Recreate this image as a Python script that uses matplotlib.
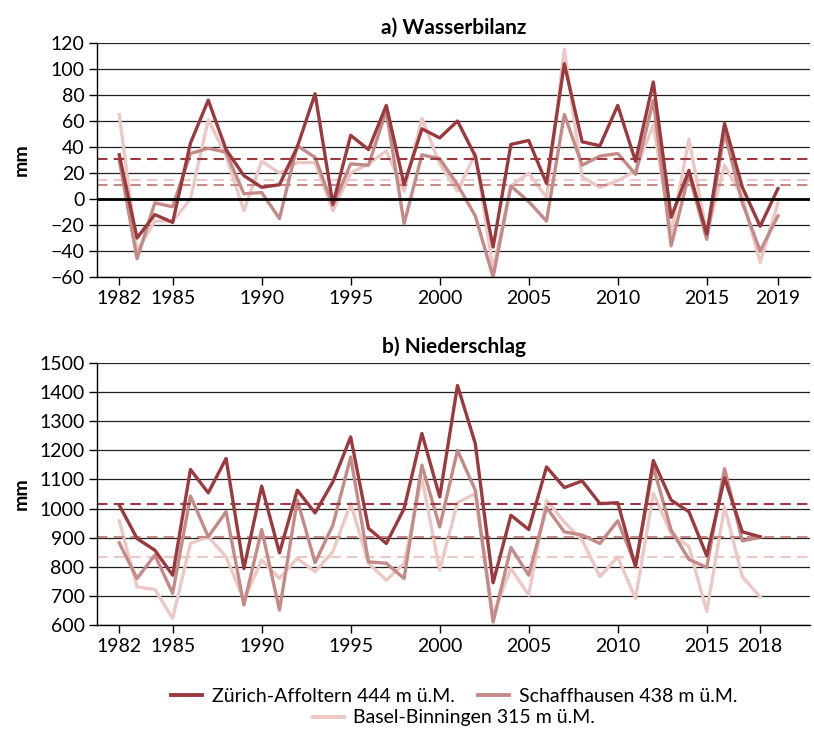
import matplotlib.pyplot as plt
from matplotlib.lines import Line2D

plt.rcParams['font.family'] = ['Lato', 'DejaVu Sans']

# years
years_a = list(range(1982, 2020))
years_b = list(range(1982, 2019))

# a) Wasserbilanz (mm)
wb_zuerich = [34, -30, -12, -18, 43, 76, 38, 18, 9, 11, 40, 81, -4, 49, 38, 72, 11,
              54, 47, 60, 33, -37, 42, 45, 12, 104, 44, 41, 72, 29, 90, -14, 22, -27,
              58, 9, -21, 8]
wb_schaffh = [30, -46, -3, -6, 35, 39, 36, 4, 5, -15, 41, 32, -5, 27, 26, 68, -19,
              34, 31, 11, -13, -60, 10, -2, -17, 65, 26, 33, 35, 19, 76, -36, 19, -31,
              51, -3, -40, -13]
wb_basel = [65, -40, -17, -17, 0, 61, 33, -9, 29, 20, 28, 28, -9, 20, 27, 37, 6,
            62, 27, 6, 35, -54, 10, 20, 1, 115, 17, 9, 14, 22, 57, -26, 46, -27,
            26, 2, -49, -3]
wb_means = [31, 11, 15]

# b) Niederschlag (mm)
ns_zuerich = [1012, 897, 857, 771, 1134, 1054, 1172, 794, 1077, 848, 1063, 985, 1092,
              1246, 932, 880, 1000, 1258, 1040, 1423, 1223, 745, 977, 928, 1143, 1072,
              1095, 1017, 1020, 800, 1165, 1029, 989, 838, 1105, 920, 903]
ns_schaffh = [882, 760, 840, 709, 1043, 903, 989, 669, 928, 651, 1029, 814, 943,
              1177, 817, 812, 760, 1149, 937, 1200, 1063, 610, 866, 771, 1004, 920,
              909, 880, 958, 806, 1143, 926, 825, 798, 1137, 889, 901]
ns_basel = [958, 731, 722, 623, 880, 903, 834, 686, 823, 760, 829, 783, 852,
            1017, 812, 754, 812, 1105, 789, 1020, 1052, 634, 794, 703, 1029, 954,
            892, 766, 834, 691, 1052, 914, 869, 646, 1006, 766, 697]
ns_means = [1015, 901, 834]

names = ['Zürich-Affoltern 444 m ü.M.', 'Schaffhausen 438 m ü.M.',
         'Basel-Binningen 315 m ü.M.']
colors = ['#9a3a3f', '#c48a87', '#ebc8c3']

ticks_a = [1982, 1985, 1990, 1995, 2000, 2005, 2010, 2015, 2019]
ticks_b = [1982, 1985, 1990, 1995, 2000, 2005, 2010, 2015, 2018]

fig = plt.figure(figsize=(8.14, 7.31), dpi=100)
W, H = 814, 731
ax1 = fig.add_axes([97 / W, 1 - 277 / H, (810 - 97) / W, (277 - 43) / H])
ax2 = fig.add_axes([97 / W, 1 - 625 / H, (810 - 97) / W, (625 - 363) / H])


def style(ax, yticks, xticks, title):
    ax.set_yticks(yticks)
    ax.set_xticks(xticks)
    ax.set_xlim(1980.75, 2020.8)
    ax.set_ylim(yticks[0], yticks[-1])
    ax.grid(axis='y', color='#222222', linewidth=0.9)
    ax.set_axisbelow(True)
    for s in ['top', 'right']:
        ax.spines[s].set_visible(False)
    ax.spines['left'].set_linewidth(1.0)
    ax.spines['bottom'].set_linewidth(1.0)
    ax.tick_params(labelsize=14, length=6, width=1, direction='out', pad=3)
    ax.set_ylabel('mm', fontsize=14, fontweight='bold')
    ax.set_title(title, fontsize=15, fontweight='bold', pad=7)


series_a = [wb_zuerich, wb_schaffh, wb_basel]
series_b = [ns_zuerich, ns_schaffh, ns_basel]

# draw light first so the dark line sits on top
for i in [2, 1, 0]:
    ax1.plot(years_a, series_a[i], color=colors[i], linewidth=2.4)
    ax1.axhline(wb_means[i], color=colors[i], linewidth=1.5, linestyle=(0, (5, 3)))
    ax2.plot(years_b, series_b[i], color=colors[i], linewidth=2.4)
    ax2.axhline(ns_means[i], color=colors[i], linewidth=1.5, linestyle=(0, (5, 3)))
ax1.axhline(0, color='black', linewidth=2)

style(ax1, list(range(-60, 121, 20)), ticks_a, 'a) Wasserbilanz')
style(ax2, list(range(600, 1501, 100)), ticks_b, 'b) Niederschlag')
ax1.yaxis.set_label_coords(-0.095, 0.5)
ax2.yaxis.set_label_coords(-0.095, 0.5)

handles = [Line2D([], [], color=c, linewidth=2.8) for c in colors]
fig.legend(handles[:2], names[:2], loc='center', ncol=2,
           bbox_to_anchor=(454 / W, 1 - 696 / H), frameon=False,
           fontsize=14, handlelength=1.6, columnspacing=1.2,
           handletextpad=0.5, borderpad=0)
fig.legend(handles[2:], names[2:], loc='center',
           bbox_to_anchor=(454 / W, 1 - 718 / H), frameon=False,
           fontsize=14, handlelength=1.6, handletextpad=0.5, borderpad=0)

fig.savefig('out.png', dpi=100)
